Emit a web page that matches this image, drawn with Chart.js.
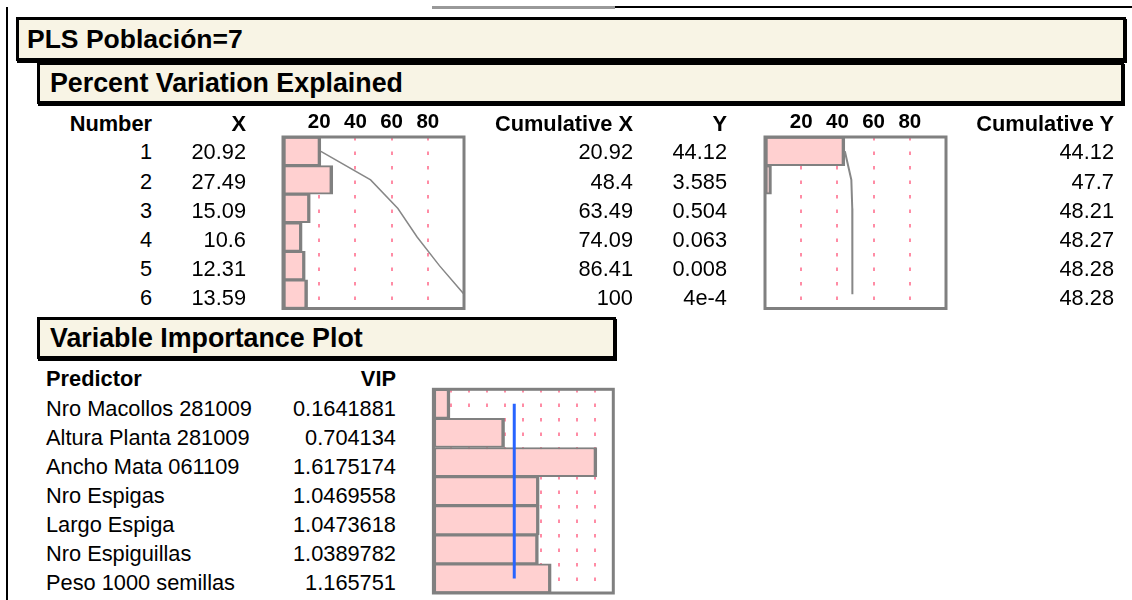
<!DOCTYPE html>
<html>
<head>
<meta charset="utf-8">
<script src="https://cdn.jsdelivr.net/npm/chart.js@4.4.0/dist/chart.umd.min.js"></script>
<style>
body { margin: 0; background: #fff; width: 1132px; height: 600px; overflow: hidden; position: relative;
       font-family: "Liberation Sans", Arial, sans-serif; color: #000; }
.box { position: absolute; box-sizing: border-box; background: #f8f4e5; border: 3px solid #000; box-shadow: 1px 2px 0 #000; }
.t { position: absolute; white-space: nowrap; }
.chartbox { position: absolute; }
</style>
</head>
<body>
<div style="position:absolute;left:6px;top:7px;width:2px;height:593px;background:#000"></div>
<div style="position:absolute;left:615px;top:6px;width:517px;height:2px;background:#000"></div>
<div style="position:absolute;left:432px;top:6px;width:183px;height:3px;background:#999"></div>

<div class="box" style="left:16px;top:17px;width:1110px;height:44px"></div>
<div class="box" style="left:37px;top:62px;width:1087px;height:42px"></div>
<div class="box" style="left:37px;top:317px;width:579px;height:42px"></div>

<div class="chartbox" style="left:270px;top:100px;width:210px;height:215px"><canvas id="chartX" width="210" height="215"></canvas></div>
<div class="chartbox" style="left:752px;top:100px;width:210px;height:215px"><canvas id="chartY" width="210" height="215"></canvas></div>
<div class="chartbox" style="left:420px;top:380px;width:210px;height:220px"><canvas id="chartVIP" width="210" height="220"></canvas></div>

<script>
/* Percent variation explained, per PLS factor */
var factors = ['1', '2', '3', '4', '5', '6'];
var xPct = [20.92, 27.49, 15.09, 10.6, 12.31, 13.59];
var cumX = [20.92, 48.4, 63.49, 74.09, 86.41, 100];
var yPct = [44.12, 3.585, 0.504, 0.063, 0.008, 4e-4];
var cumY = [44.12, 47.7, 48.21, 48.27, 48.28, 48.28];
var pctTicks = [20, 40, 60, 80];

/* Variable importance */
var predictors = ['Nro Macollos 281009', 'Altura Planta 281009', 'Ancho Mata 061109', 'Nro Espigas',
                  'Largo Espiga', 'Nro Espiguillas', 'Peso 1000 semillas'];
var vip = [0.1641881, 0.704134, 1.6175174, 1.0469558, 1.0473618, 1.0389782, 1.165751];
var vipCutoff = 0.8;
var vipAxisMax = 1.78;

var FONT = '"Liberation Sans", Arial, sans-serif';
var barPink = 'rgb(255,208,208)';
var barGrey = 'rgb(128,128,128)';
var gridPink = 'rgb(255,140,165)';

/* place a text label; y is the vertical centre */
function label(text, x, y, align, size, bold) {
    var d = document.createElement('div');
    d.className = 't';
    d.textContent = text;
    d.style.fontSize = size + 'px';
    d.style.lineHeight = size + 'px';
    d.style.top = (y - size / 2) + 'px';
    if (bold) d.style.fontWeight = 'bold';
    if (align === 'right') {
        d.style.left = (x - 400) + 'px';
        d.style.width = '400px';
        d.style.textAlign = 'right';
    } else {
        d.style.left = x + 'px';
    }
    document.body.appendChild(d);
}

function fmt(v) {
    if (v !== 0 && Math.abs(v) < 0.001) return v.toExponential();
    return String(v);
}

/* headers */
label('PLS Población=7', 27, 39, 'left', 26.5, true);
label('Percent Variation Explained', 50, 83, 'left', 26.8, true);
label('Variable Importance Plot', 50, 338, 'left', 26.8, true);

/* percent variation table */
var TS = 21.8;
label('Number', 152, 124, 'right', TS, true);
label('X', 246, 124, 'right', TS, true);
label('Cumulative X', 633, 124, 'right', TS, true);
label('Y', 727, 124, 'right', TS, true);
label('Cumulative Y', 1114, 124, 'right', TS, true);
for (var i = 0; i < factors.length; i++) {
    var ry = 152.3 + i * 29.2;
    label(factors[i], 152, ry, 'right', TS);
    label(fmt(xPct[i]), 246, ry, 'right', TS);
    label(fmt(cumX[i]), 633, ry, 'right', TS);
    label(fmt(yPct[i]), 727, ry, 'right', TS);
    label(fmt(cumY[i]), 1114, ry, 'right', TS);
}

/* VIP table */
label('Predictor', 46, 379, 'left', TS, true);
label('VIP', 396, 379, 'right', TS, true);
for (var j = 0; j < predictors.length; j++) {
    var vy = 408.6 + j * 29.1;
    label(predictors[j], 46, vy, 'left', TS);
    label(fmt(vip[j]), 396, vy, 'right', TS);
}

/* grey frame round the plot area */
var framePlugin = {
    id: 'frame',
    afterDatasetsDraw: function (chart) {
        var ctx = chart.ctx, a = chart.chartArea;
        ctx.save();
        ctx.strokeStyle = barGrey;
        ctx.lineWidth = 3;
        ctx.strokeRect(a.left, a.top, a.right - a.left, a.bottom - a.top);
        ctx.restore();
    }
};

function barSet(values) {
    return {
        type: 'bar',
        data: values,
        backgroundColor: barPink,
        borderColor: barGrey,
        borderWidth: { top: 2, bottom: 2, left: 3, right: 3.5 },
        borderSkipped: false,
        barPercentage: 1,
        categoryPercentage: 1,
        order: 1
    };
}

function pctChart(id, values, cumul, lineWidth) {
    return new Chart(document.getElementById(id), {
        type: 'bar',
        data: {
            labels: factors,
            datasets: [
                { type: 'line', data: cumul, borderColor: 'rgb(135,135,135)', borderWidth: lineWidth,
                  pointRadius: 0, tension: 0, order: 0 },
                barSet(values)
            ]
        },
        options: {
            indexAxis: 'y',
            responsive: false,
            animation: false,
            layout: { padding: { left: 13, right: 16, top: 7.4, bottom: 6.5 } },
            plugins: { legend: { display: false }, tooltip: { enabled: false } },
            scales: {
                x: {
                    position: 'top', min: 0, max: 100,
                    afterBuildTicks: function (s) { s.ticks = pctTicks.map(function (v) { return { value: v }; }); },
                    ticks: { padding: 2.5, color: '#000', font: { family: FONT, size: 20.5, weight: 'bold' } },
                    grid: { color: gridPink, lineWidth: 2, drawTicks: false },
                    border: { display: false, dash: [3.5, 11] }
                },
                y: { display: false }
            }
        },
        plugins: [framePlugin]
    });
}

pctChart('chartX', xPct, cumX, 1.5);
pctChart('chartY', yPct, cumY, 2);

new Chart(document.getElementById('chartVIP'), {
    type: 'bar',
    data: {
        labels: predictors,
        datasets: [
            { type: 'line', data: predictors.map(function () { return vipCutoff; }),
              borderColor: 'rgb(40,100,255)', borderWidth: 3, pointRadius: 0, order: 0 },
            barSet(vip)
        ]
    },
    options: {
        indexAxis: 'y',
        responsive: false,
        animation: false,
        layout: { padding: { left: 13.4, right: 16.7, top: 9.3, bottom: 7 } },
        plugins: { legend: { display: false }, tooltip: { enabled: false } },
        scales: {
            x: {
                position: 'top', min: 0, max: vipAxisMax,
                afterBuildTicks: function (s) {
                    var t = [];
                    for (var k = 1; k < 10; k++) t.push({ value: vipAxisMax * k / 10 });
                    s.ticks = t;
                },
                ticks: { display: false },
                grid: { color: gridPink, lineWidth: 2, drawTicks: false },
                border: { display: false, dash: [3.5, 11] }
            },
            y: { display: false }
        }
    },
    plugins: [framePlugin]
});
</script>
</body>
</html>
